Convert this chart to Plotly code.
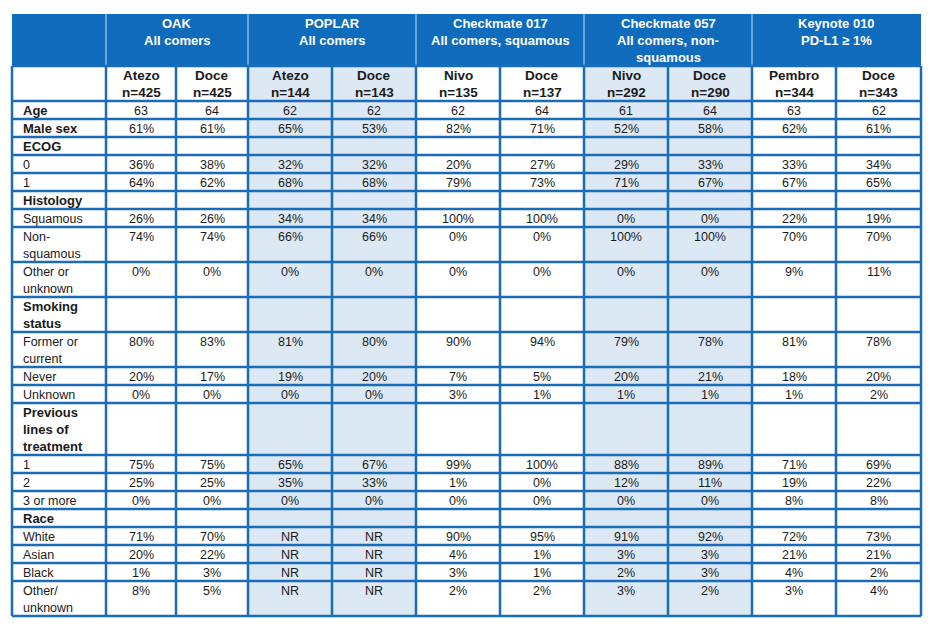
import plotly.graph_objects as go

# ---------------- data ----------------
trials = ["OAK<br>All comers", "POPLAR<br>All comers", "Checkmate 017<br>All comers, squamous",
          "Checkmate 057<br>All comers, non-<br>squamous", "Keynote 010<br>PD-L1 ≥ 1%"]
arms = ["Atezo<br>n=425", "Doce<br>n=425", "Atezo<br>n=144", "Doce<br>n=143",
        "Nivo<br>n=135", "Doce<br>n=137", "Nivo<br>n=292", "Doce<br>n=290",
        "Pembro<br>n=344", "Doce<br>n=343"]
row_labels = ["Age", "Male sex", "ECOG", "0", "1", "Histology", "Squamous", "Non-<br>squamous",
              "Other or<br>unknown", "Smoking<br>status", "Former or<br>current", "Never", "Unknown",
              "Previous<br>lines of<br>treatment", "1", "2", "3 or more", "Race", "White", "Asian",
              "Black", "Other/<br>unknown"]
bold_rows = ["Age", "Male sex", "ECOG", "Histology", "Smoking<br>status",
             "Previous<br>lines of<br>treatment", "Race"]

oak_atezo = ["63", "61%", "", "36%", "64%", "", "26%", "74%", "0%", "", "80%", "20%", "0%", "",
             "75%", "25%", "0%", "", "71%", "20%", "1%", "8%"]
oak_doce = ["64", "61%", "", "38%", "62%", "", "26%", "74%", "0%", "", "83%", "17%", "0%", "",
            "75%", "25%", "0%", "", "70%", "22%", "3%", "5%"]
poplar_atezo = ["62", "65%", "", "32%", "68%", "", "34%", "66%", "0%", "", "81%", "19%", "0%", "",
                "65%", "35%", "0%", "", "NR", "NR", "NR", "NR"]
poplar_doce = ["62", "53%", "", "32%", "68%", "", "34%", "66%", "0%", "", "80%", "20%", "0%", "",
               "67%", "33%", "0%", "", "NR", "NR", "NR", "NR"]
cm017_nivo = ["62", "82%", "", "20%", "79%", "", "100%", "0%", "0%", "", "90%", "7%", "3%", "",
              "99%", "1%", "0%", "", "90%", "4%", "3%", "2%"]
cm017_doce = ["64", "71%", "", "27%", "73%", "", "100%", "0%", "0%", "", "94%", "5%", "1%", "",
              "100%", "0%", "0%", "", "95%", "1%", "1%", "2%"]
cm057_nivo = ["61", "52%", "", "29%", "71%", "", "0%", "100%", "0%", "", "79%", "20%", "1%", "",
              "88%", "12%", "0%", "", "91%", "3%", "2%", "3%"]
cm057_doce = ["64", "58%", "", "33%", "67%", "", "0%", "100%", "0%", "", "78%", "21%", "1%", "",
              "89%", "11%", "0%", "", "92%", "3%", "3%", "2%"]
kn010_pembro = ["63", "62%", "", "33%", "67%", "", "22%", "70%", "9%", "", "81%", "18%", "1%", "",
                "71%", "19%", "8%", "", "72%", "21%", "4%", "3%"]
kn010_doce = ["62", "61%", "", "34%", "65%", "", "19%", "70%", "11%", "", "78%", "20%", "2%", "",
              "69%", "22%", "8%", "", "73%", "21%", "2%", "4%"]

columns = [oak_atezo, oak_doce, poplar_atezo, poplar_doce, cm017_nivo, cm017_doce,
           cm057_nivo, cm057_doce, kn010_pembro, kn010_doce]
shaded_groups = [1, 3]

# ---------------- layout constants ----------------
W, H = 931, 628
PAGE_MARGIN = 8  # default body margin of the html page
FONT = "Liberation Sans, Arial, sans-serif"
HEAD_BLUE = "#0f6cbd"
LINE_BLUE = "#1a6cb6"
LIGHT = "#dde8f5"
TXT = "#1a1a1a"
col_widths = [94, 70, 72, 84, 84, 84, 84, 84, 84, 84, 85]
x0, y0 = 12, 14
LINE_H = 17

xb = [x0]
for w in col_widths:
    xb.append(xb[-1] + w)


def nlines(s):
    return s.count("<br>") + 1


def row_h(n):
    return 1 + LINE_H * n


head_lines = max(nlines(t) for t in trials)
sub_lines = max(nlines(a) for a in arms)
yb = [y0, y0 + row_h(head_lines), y0 + row_h(head_lines) + row_h(sub_lines)]
for lab in row_labels:
    yb.append(yb[-1] + row_h(nlines(lab)))

shapes = []
ann = []
grid_top, grid_bot = yb[1], yb[-1]

# shaded columns
for g in shaded_groups:
    shapes.append(dict(type="rect", xref="x", yref="y", x0=xb[1 + 2 * g], x1=xb[3 + 2 * g],
                       y0=grid_top, y1=grid_bot, fillcolor=LIGHT, line=dict(width=0), layer="below"))
# header fill
shapes.append(dict(type="rect", xref="x", yref="y", x0=xb[0], x1=xb[-1], y0=yb[0], y1=yb[1],
                   fillcolor=HEAD_BLUE, line=dict(width=0), layer="below"))
# header dividers
for g in range(len(trials)):
    xx = xb[1 + 2 * g]
    shapes.append(dict(type="line", xref="x", yref="y", x0=xx, x1=xx, y0=yb[0], y1=yb[1],
                       line=dict(color="#cfe0f3", width=1)))
# grid lines
for yy in yb[1:]:
    shapes.append(dict(type="line", xref="x", yref="y", x0=xb[0], x1=xb[-1], y0=yy, y1=yy,
                       line=dict(color=LINE_BLUE, width=2.5)))
for xx in xb:
    shapes.append(dict(type="line", xref="x", yref="y", x0=xx, x1=xx, y0=grid_top, y1=grid_bot,
                       line=dict(color=LINE_BLUE, width=2.5)))


def add_lines(text, xc, top, anchor, size, color, bold):
    for i, ln in enumerate(text.split("<br>")):
        if not ln:
            continue
        ann.append(dict(x=xc, y=top + 1 + LINE_H * (i + 0.5), xref="x", yref="y",
                        text=("<b>%s</b>" % ln) if bold else ln, showarrow=False,
                        xanchor=anchor, yanchor="middle",
                        font=dict(family=FONT, size=size, color=color)))


# header text
for g, t in enumerate(trials):
    xc = (xb[1 + 2 * g] + xb[3 + 2 * g]) / 2
    add_lines(t, xc, yb[0], "center", 13, "white", True)
# sub header
for c, a in enumerate(arms):
    xc = (xb[1 + c] + xb[2 + c]) / 2
    add_lines(a, xc, yb[1], "center", 13.5, TXT, True)
# body
for r, lab in enumerate(row_labels):
    top = yb[2 + r]
    b = lab in bold_rows
    add_lines(lab, xb[0] + 9, top, "left", 13 if b else 12.5, TXT, b)
    for c, col in enumerate(columns):
        xc = (xb[1 + c] + xb[2 + c]) / 2
        add_lines(col[r], xc, top, "center", 12.5, TXT, False)

FW, FH = W - 2 * PAGE_MARGIN, H - 2 * PAGE_MARGIN
fig = go.Figure()
fig.add_trace(go.Scatter(x=[PAGE_MARGIN, PAGE_MARGIN + FW], y=[PAGE_MARGIN, PAGE_MARGIN + FH],
                         mode="markers", marker=dict(opacity=0),
                         hoverinfo="skip", showlegend=False))
fig.update_layout(width=FW, height=FH, margin=dict(l=0, r=0, t=0, b=0),
                  paper_bgcolor="white", plot_bgcolor="white",
                  xaxis=dict(range=[PAGE_MARGIN, PAGE_MARGIN + FW], visible=False, fixedrange=True),
                  yaxis=dict(range=[PAGE_MARGIN + FH, PAGE_MARGIN], visible=False, fixedrange=True),
                  shapes=shapes, annotations=ann, showlegend=False)
fig.write_html("out.html")
